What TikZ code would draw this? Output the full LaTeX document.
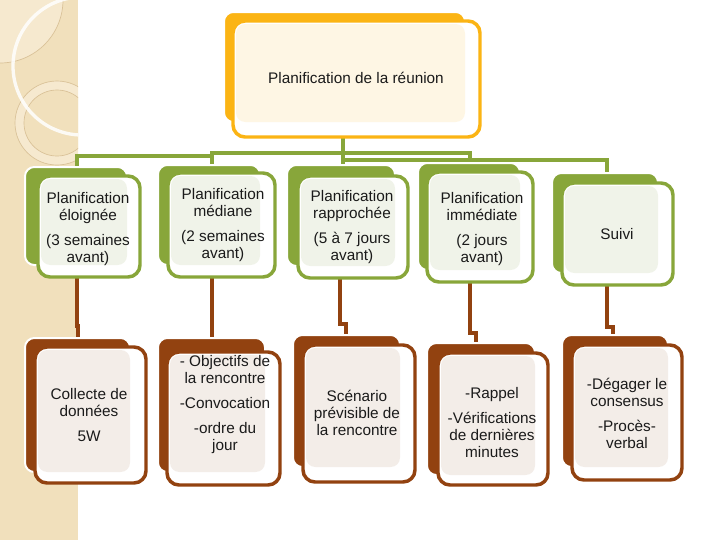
\documentclass[tikz,border=0pt]{standalone}
\usepackage{fontspec}
\setmainfont{Liberation Sans}
\usetikzlibrary{calc}
\definecolor{stripbg}{HTML}{F1E0BC}
\definecolor{striplt}{HTML}{F6E9CF}
\definecolor{ringc}{HTML}{D9C197}
\definecolor{orA}{HTML}{FBB414}
\definecolor{creamf}{HTML}{FEF6E4}
\definecolor{grn}{HTML}{88A63A}
\definecolor{grnf}{HTML}{F0F3E9}
\definecolor{brn}{HTML}{924210}
\definecolor{brnf}{HTML}{F3EDE8}
\definecolor{txt}{HTML}{1A1A1A}
\tikzset{
 conG/.style={draw=grn, line width=2.8pt},
 conB/.style={draw=brn, line width=2.6pt},
 backbox/.style={draw=white, line width=1.5pt, rounded corners=7pt},
 frontbox/.style={fill=white, line width=2.6pt, rounded corners=9pt},
 innerbox/.style={rounded corners=7pt},
 lbl/.style={align=center, text=txt, font=\fontsize{11.5}{12.75}\selectfont, inner sep=0pt},
}
\newcommand\accbox[9]{%
 \fill[backbox, fill=#2] #4 rectangle #5;
 \draw[frontbox, draw=#2] #6 rectangle #7;
 \fill[innerbox, fill=#3] ($#6+(3,3)$) rectangle #5;
 \node[lbl] (#1) at #8 {#9};
}
\begin{document}
\begin{tikzpicture}[x=0.75pt,y=-0.75pt]
\useasboundingbox (0,0) rectangle (720,540);
% left decorative strip
\fill[stripbg] (0,0) rectangle (78,540);
\begin{scope}
 \clip (0,0) rectangle (78,540);
 \fill[striplt] (0,0) circle (63);
 \draw[ringc, line width=0.5pt] (0,0) circle (63);
 \fill[striplt] (57,123) circle (42);
 \fill[stripbg] (57,123) circle (33);
 \draw[ringc, line width=0.5pt] (57,123) circle (42);
 \draw[ringc, line width=0.5pt] (57,123) circle (33);
 \draw[white, opacity=0.85, line width=2.5pt] (82,66) circle (69);
\end{scope}
% connector end points
\coordinate (tS) at (343,130);
\coordinate (g1n) at (77,170);
\coordinate (g2n) at (212,170);
\coordinate (g3n) at (343,170);
\coordinate (g4n) at (470,168);
\coordinate (g5n) at (607,178);
\coordinate (g1s) at (77,270);
\coordinate (g2s) at (212,270);
\coordinate (g3s) at (340,270);
\coordinate (g4s) at (470,275);
\coordinate (g5s) at (607,278);
\coordinate (b1n) at (78,342);
\coordinate (b2n) at (212,342);
\coordinate (b3n) at (346,340);
\coordinate (b4n) at (476,348);
\coordinate (b5n) at (613,340);
% green connectors
\draw[conG] (tS) -- (343,153) -- (212,153) -- (212,156) -| (g1n);
\draw[conG] (tS) -- (343,153) -| (g2n);
\draw[conG] (tS) -- (g3n);
\draw[conG] (tS) -- (343,153) -| (g4n);
\draw[conG] (tS) -- (343,160) -| (g5n);
% brown connectors
\draw[conB] (g1s) -- (77,326) -| (b1n);
\draw[conB] (g2s) -- (b2n);
\draw[conB] (g3s) -- (340,324) -| (b3n);
\draw[conB] (g4s) -- (470,333) -| (b4n);
\draw[conB] (g5s) -- (607,327) -| (b5n);
% top box
\accbox{top}{orA}{creamf}{(224,12)}{(465,122)}{(233,21)}{(480,137)}{(356,78)}{Planification de la réunion}
% green row
\accbox{g1}{grn}{grnf}{(25,167)}{(127,265)}{(38,176)}{(140,277)}{(88,229)}{Planification\\éloignée\\[6pt](3 semaines\\avant)}
\accbox{g2}{grn}{grnf}{(158,165)}{(260,265)}{(168,173)}{(275,277)}{(223,225)}{Planification\\médiane\\[6pt](2 semaines\\avant)}
\accbox{g3}{grn}{grnf}{(287,165)}{(395,266)}{(298,176)}{(408,278)}{(352,227.5)}{Planification\\rapprochée\\[6pt](5 à 7 jours\\avant)}
\accbox{g4}{grn}{grnf}{(418,163)}{(520,270)}{(427,172)}{(533,282)}{(482,229.5)}{Planification\\immédiate\\[6pt](2 jours\\avant)}
\accbox{g5}{grn}{grnf}{(552,173)}{(658,273)}{(562,183)}{(673,285)}{(617,234)}{Suivi}
% brown row
\accbox{b1}{brn}{brnf}{(25,338)}{(130,472)}{(35,347)}{(146,483)}{(89,415)}{Collecte de\\données\\[6pt]5W}
\accbox{b2}{brn}{brnf}{(158,338)}{(265,472)}{(167,352)}{(280,485)}{(225,404.5)}{- Objectifs de\\la rencontre\\[6pt]-Convocation\\[6pt]-ordre du\\jour}
\accbox{b3}{brn}{brnf}{(293,335)}{(400,467)}{(303,345)}{(415,482)}{(357,413)}{Scénario\\prévisible de\\la rencontre}
\accbox{b4}{brn}{brnf}{(427,343)}{(535,475)}{(438,353)}{(548,485)}{(492,422.5)}{-Rappel\\[6pt]-Vérifications\\de dernières\\minutes}
\accbox{b5}{brn}{brnf}{(562,335)}{(668,467)}{(572,345)}{(682,480)}{(627,413)}{-Dégager le\\consensus\\[6pt]-Procès-\\verbal}
\end{tikzpicture}
\end{document}
